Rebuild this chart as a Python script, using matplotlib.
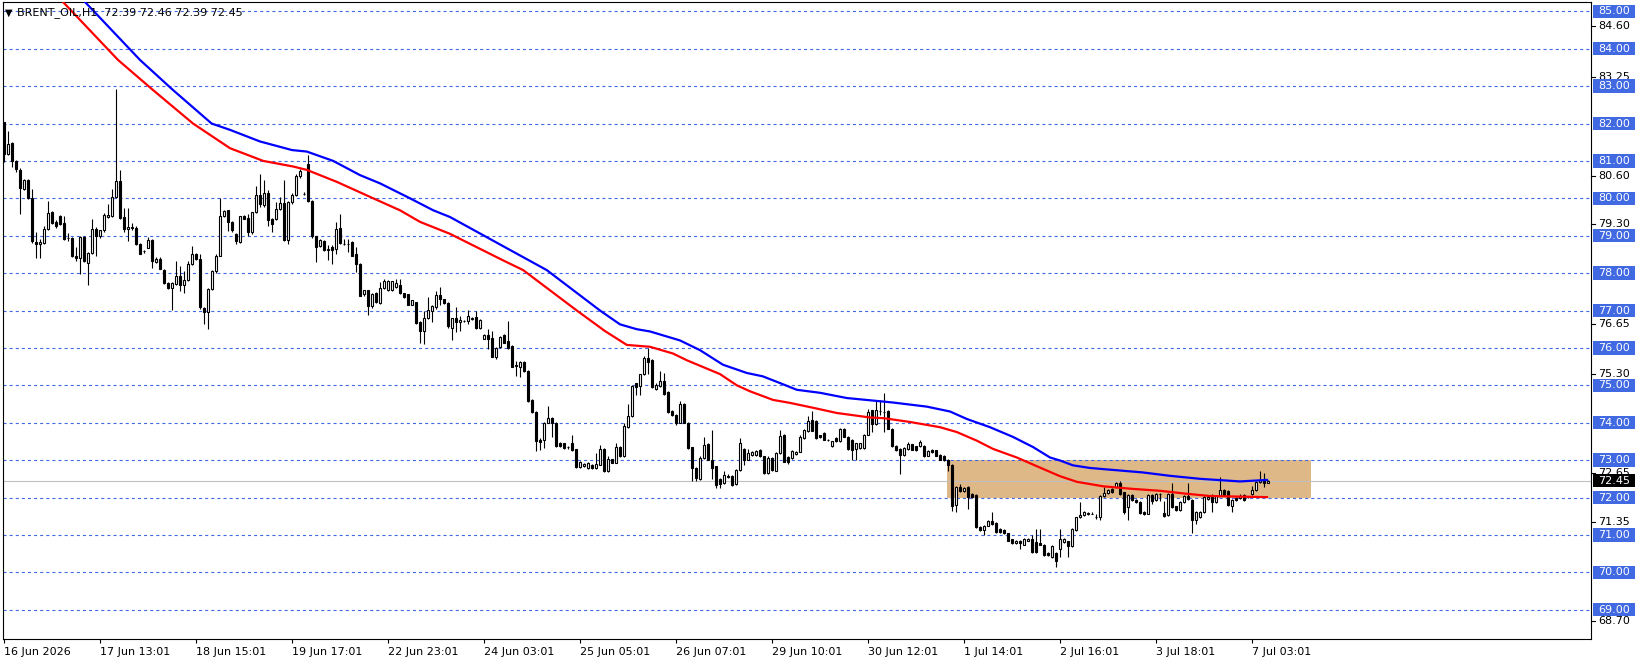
import matplotlib
matplotlib.use("Agg")
import matplotlib.pyplot as plt
import matplotlib.transforms as mtransforms
from matplotlib.patches import Rectangle

plt.rcParams['lines.scale_dashes'] = False
plt.rcParams['font.family'] = ['DejaVu Sans']

# ---------------- data (H1 bars, index 0 = first bar) ----------------
opens = [
 82.03, 81.19, 81.48, 81.00, 80.76, 80.25, 80.49, 80.02, 78.84, 78.77,
 78.81, 79.17, 79.63, 79.38, 79.52, 79.35, 78.94, 78.93, 78.46, 78.40,
 78.97, 78.27, 78.54, 79.17, 78.99, 79.14, 79.50, 79.52, 80.04, 80.45,
 79.51, 79.17, 79.21, 79.21, 78.78, 78.59, 78.68, 78.88, 78.30, 78.39,
 78.09, 77.73, 77.60, 77.71, 77.91, 77.67, 77.82, 78.25, 78.52, 78.39,
 77.08, 76.97, 77.58, 78.05, 78.47, 79.54, 79.68, 79.38, 79.05, 78.83,
 79.52, 79.48, 79.10, 79.63, 80.10, 79.81, 80.13, 79.46, 79.46, 79.72,
 79.88, 78.89, 79.90, 80.08, 80.59, 80.12, 80.91, 79.93, 78.98, 78.72,
 78.86, 78.63, 78.71, 78.65, 79.21, 78.78, 78.78, 78.83, 78.52, 78.25,
 77.43, 77.54, 77.11, 77.46, 77.20, 77.60, 77.55, 77.55, 77.63, 77.67,
 77.46, 77.43, 77.16, 77.22, 76.69, 76.44, 76.81, 76.99, 77.10, 77.42,
 77.30, 77.20, 76.54, 76.79, 76.68, 76.72, 76.71, 76.77, 76.83, 76.53,
 76.25, 76.34, 76.26, 75.76, 76.03, 76.34, 76.19, 76.05, 75.52, 75.50,
 75.63, 75.38, 74.61, 74.29, 73.55, 73.55, 74.00, 74.13, 74.00, 73.46,
 73.45, 73.35, 73.45, 73.29, 72.82, 72.84, 72.79, 72.87, 72.78, 72.88,
 73.30, 72.71, 73.02, 72.93, 73.36, 73.11, 73.88, 74.18, 75.05, 74.98,
 75.29, 75.72, 75.67, 74.91, 74.97, 75.12, 74.81, 74.32, 74.20, 74.00,
 74.51, 74.00, 73.34, 72.79, 72.50, 73.05, 73.43, 73.01, 72.83, 72.49,
 72.38, 72.58, 72.58, 72.36, 72.74, 73.30, 73.01, 73.14, 73.14, 73.28,
 73.10, 72.65, 73.05, 72.72, 73.19, 73.68, 73.09, 73.05, 73.16, 73.23,
 73.59, 73.77, 74.06, 74.05, 73.66, 73.72, 73.54, 73.37, 73.59, 73.50,
 73.84, 73.63, 73.54, 73.30, 73.32, 73.32, 73.68, 74.33, 73.97, 74.32,
 74.29, 74.31, 73.84, 73.39, 73.30, 73.14, 73.30, 73.42, 73.37, 73.37,
 73.39, 73.12, 73.28, 73.26, 73.15, 73.12, 73.01, 72.88, 71.81, 72.29,
 72.17, 72.28, 72.10, 72.08, 71.21, 71.12, 71.25, 71.37, 71.32, 71.16,
 71.14, 71.04, 70.88, 70.78, 70.85, 70.74, 70.85, 70.88, 70.80, 70.78,
 70.74, 70.51, 70.40, 70.51, 70.63, 70.80, 70.83, 70.71, 71.12, 71.47,
 71.52, 71.56, 71.57, 71.48, 71.48, 72.03, 72.12, 72.23, 72.27, 72.38,
 72.14, 71.74, 72.08, 71.94, 71.88, 71.61, 71.57, 72.08, 71.94, 72.10,
 71.58, 71.52, 72.10, 71.76, 71.67, 71.88, 72.05, 71.94, 71.39, 71.48,
 71.61, 71.96, 72.01, 71.88, 72.05, 72.20, 72.17, 71.76, 71.99, 71.99,
 72.08, 72.01, 72.10, 72.20, 72.41, 72.50, 72.39]

highs = [
 82.05, 81.80, 81.51, 81.02, 80.80, 80.52, 80.52, 80.25, 79.10, 78.90,
 79.26, 79.93, 79.66, 79.42, 79.55, 79.52, 79.08, 78.96, 78.70, 79.00,
 79.00, 78.56, 79.45, 79.23, 79.16, 79.60, 79.84, 80.25, 82.93, 80.77,
 79.75, 79.75, 79.35, 79.25, 78.80, 78.62, 78.97, 78.92, 78.42, 78.42,
 78.12, 77.76, 77.75, 78.33, 78.20, 78.05, 78.32, 78.72, 78.55, 78.50,
 77.10, 77.60, 78.08, 78.50, 80.00, 79.68, 79.70, 79.40, 79.08, 79.54,
 79.55, 79.59, 79.64, 80.32, 80.66, 80.48, 80.21, 79.48, 79.90, 80.04,
 80.50, 79.92, 80.13, 80.66, 80.79, 80.16, 81.15, 79.96, 79.00, 78.90,
 78.88, 78.74, 78.74, 79.37, 79.59, 78.92, 78.92, 78.86, 78.70, 78.28,
 77.56, 77.56, 77.47, 77.50, 77.76, 77.85, 77.82, 77.80, 77.85, 77.85,
 77.48, 77.45, 77.29, 77.24, 76.71, 76.99, 77.35, 77.15, 77.53, 77.63,
 77.32, 77.22, 76.80, 77.10, 76.86, 76.75, 77.01, 76.83, 76.99, 76.76,
 76.36, 76.50, 76.44, 76.03, 76.32, 76.36, 76.72, 76.07, 75.65, 75.65,
 75.66, 75.40, 74.63, 74.31, 73.58, 74.02, 74.46, 74.16, 74.02, 73.48,
 73.47, 73.38, 73.67, 73.31, 72.98, 72.92, 72.95, 72.89, 73.20, 73.40,
 73.32, 73.11, 73.04, 73.46, 73.38, 74.00, 74.50, 75.00, 75.07, 75.31,
 75.78, 75.99, 75.70, 75.05, 75.39, 75.33, 74.84, 74.35, 74.23, 74.57,
 74.53, 74.02, 73.36, 72.81, 73.10, 73.61, 73.45, 73.81, 72.85, 72.51,
 72.70, 72.62, 72.60, 72.76, 73.59, 73.32, 73.30, 73.25, 73.28, 73.30,
 73.12, 73.10, 73.07, 73.21, 73.81, 73.70, 73.11, 73.27, 73.25, 73.68,
 73.83, 74.17, 74.30, 74.07, 73.68, 73.74, 73.57, 73.52, 73.61, 73.86,
 73.86, 73.65, 73.56, 73.47, 73.47, 73.70, 74.36, 74.35, 74.62, 74.62,
 74.80, 74.33, 73.86, 73.41, 73.32, 73.35, 73.48, 73.44, 73.39, 73.55,
 73.41, 73.26, 73.30, 73.28, 73.17, 73.14, 73.03, 72.90, 72.31, 72.35,
 72.28, 72.30, 72.12, 72.10, 71.23, 71.27, 71.40, 71.60, 71.34, 71.18,
 71.16, 71.06, 70.90, 70.87, 70.87, 70.91, 70.91, 71.00, 71.16, 71.16,
 70.76, 70.53, 70.73, 70.53, 71.16, 70.91, 70.85, 71.18, 71.49, 71.87,
 71.63, 71.62, 71.60, 71.57, 72.07, 72.27, 72.22, 72.25, 72.41, 72.45,
 72.16, 72.10, 72.10, 71.96, 71.90, 71.63, 72.10, 72.10, 72.12, 72.12,
 71.92, 72.12, 72.39, 71.78, 71.90, 72.07, 72.39, 71.96, 71.63, 71.63,
 72.03, 72.03, 72.10, 72.05, 72.56, 72.22, 72.19, 71.96, 72.01, 72.10,
 72.10, 72.04, 72.31, 72.43, 72.72, 72.65, 72.46]

lows = [
 80.97, 81.15, 80.83, 80.70, 79.57, 80.21, 79.98, 78.80, 78.40, 78.40,
 78.78, 79.15, 79.30, 79.20, 79.28, 78.88, 78.85, 78.42, 78.32, 77.97,
 78.30, 77.69, 78.50, 78.47, 78.95, 79.10, 79.48, 79.50, 80.00, 79.45,
 79.10, 78.86, 79.15, 78.75, 78.50, 78.55, 78.66, 78.14, 78.28, 78.10,
 77.70, 77.58, 77.01, 77.68, 77.51, 77.47, 77.80, 78.22, 78.35, 77.05,
 76.65, 76.50, 77.55, 78.00, 78.45, 79.50, 79.12, 79.10, 78.79, 78.80,
 79.44, 79.00, 79.05, 79.60, 79.77, 79.78, 79.27, 79.10, 79.42, 79.70,
 78.85, 78.79, 79.86, 80.05, 80.55, 80.10, 79.90, 78.95, 78.31, 78.70,
 78.60, 78.34, 78.25, 78.52, 78.78, 78.74, 78.56, 78.45, 78.03, 77.38,
 77.40, 76.89, 77.08, 77.20, 77.18, 77.58, 77.52, 77.52, 77.60, 77.44,
 77.34, 77.14, 77.14, 76.64, 76.13, 76.10, 76.78, 76.70, 77.05, 77.16,
 77.17, 76.54, 76.21, 76.43, 76.45, 76.69, 76.65, 76.75, 76.51, 76.51,
 76.23, 75.96, 75.75, 75.70, 76.00, 76.12, 75.97, 75.48, 75.25, 75.21,
 75.35, 74.56, 74.27, 73.24, 73.27, 73.33, 73.98, 73.63, 73.36, 73.36,
 73.31, 73.29, 73.25, 72.80, 72.80, 72.82, 72.77, 72.76, 72.76, 72.86,
 72.69, 72.69, 72.91, 72.91, 73.09, 73.09, 73.86, 74.16, 74.73, 74.73,
 75.27, 75.31, 74.92, 74.88, 74.95, 74.75, 74.27, 74.18, 73.95, 73.98,
 73.98, 73.30, 72.43, 72.45, 72.48, 73.03, 72.99, 72.50, 72.25, 72.25,
 72.36, 72.52, 72.30, 72.33, 72.72, 72.86, 72.99, 73.12, 73.12, 73.08,
 72.62, 72.63, 72.72, 72.70, 73.17, 72.94, 72.90, 73.03, 73.14, 73.21,
 73.57, 73.75, 73.77, 73.57, 73.60, 73.53, 73.51, 73.35, 73.48, 73.48,
 73.61, 73.28, 73.00, 73.00, 73.30, 73.30, 73.66, 73.75, 73.95, 74.20,
 73.75, 73.82, 73.35, 73.24, 72.63, 73.12, 73.28, 73.26, 73.24, 73.35,
 73.08, 73.10, 73.20, 73.10, 72.99, 72.97, 72.72, 71.65, 71.60, 72.15,
 72.15, 71.70, 71.99, 71.19, 71.11, 71.00, 71.23, 71.26, 71.05, 71.05,
 71.02, 70.83, 70.76, 70.76, 70.62, 70.72, 70.83, 70.52, 70.52, 70.72,
 70.43, 70.43, 70.38, 70.15, 70.40, 70.78, 70.40, 70.69, 71.10, 71.45,
 71.50, 71.54, 71.55, 71.43, 71.40, 72.01, 72.10, 72.12, 72.25, 72.08,
 71.55, 71.41, 71.92, 71.86, 71.56, 71.53, 71.55, 71.83, 71.92, 71.92,
 71.48, 71.50, 71.72, 71.65, 71.65, 71.86, 71.94, 71.05, 71.30, 71.46,
 71.59, 71.94, 71.60, 71.86, 72.03, 72.06, 71.77, 71.60, 71.92, 71.97,
 71.92, 71.99, 72.08, 72.18, 72.39, 72.29, 72.39]

closes = [
 81.19, 81.44, 81.01, 80.79, 80.27, 80.49, 80.02, 78.85, 78.77, 78.83,
 79.17, 79.60, 79.35, 79.25, 79.32, 78.90, 78.95, 78.45, 78.40, 78.97,
 78.32, 78.54, 79.17, 78.99, 79.14, 79.55, 79.55, 80.04, 80.45, 79.48,
 79.17, 79.23, 79.22, 78.78, 78.52, 78.60, 78.88, 78.32, 78.39, 78.12,
 77.73, 77.60, 77.73, 77.91, 77.67, 77.82, 78.25, 78.52, 78.39, 77.10,
 76.97, 77.58, 78.06, 78.47, 79.53, 79.65, 79.37, 79.14, 78.86, 79.52,
 79.46, 79.10, 79.63, 80.10, 79.84, 80.13, 79.41, 79.30, 79.72, 79.88,
 78.89, 79.90, 80.08, 80.59, 80.73, 80.12, 79.93, 78.98, 78.70, 78.88,
 78.63, 78.64, 78.63, 79.17, 78.80, 78.79, 78.79, 78.47, 78.25, 77.40,
 77.54, 77.11, 77.45, 77.22, 77.61, 77.80, 77.80, 77.78, 77.73, 77.46,
 77.36, 77.16, 77.27, 76.66, 76.45, 76.81, 77.01, 77.13, 77.42, 77.30,
 77.19, 76.59, 76.79, 76.68, 76.74, 76.72, 76.86, 76.81, 76.53, 76.74,
 76.34, 76.25, 75.77, 76.01, 76.30, 76.14, 75.99, 75.50, 75.53, 75.63,
 75.37, 74.58, 74.29, 73.51, 73.49, 74.00, 74.13, 74.00, 73.38, 73.38,
 73.33, 73.35, 73.27, 72.82, 72.96, 72.90, 72.93, 72.78, 72.90, 73.30,
 72.71, 73.02, 72.93, 73.36, 73.11, 73.91, 74.18, 74.98, 74.96, 75.29,
 75.72, 75.63, 74.95, 75.02, 75.12, 74.77, 74.29, 74.20, 74.00, 74.51,
 74.00, 73.32, 72.79, 72.52, 73.05, 73.41, 73.01, 72.80, 72.34, 72.36,
 72.61, 72.55, 72.34, 72.74, 73.46, 73.00, 73.19, 73.23, 73.25, 73.10,
 72.65, 73.05, 72.74, 73.19, 73.65, 72.96, 72.96, 73.25, 73.23, 73.62,
 73.81, 74.04, 73.79, 73.59, 73.62, 73.55, 73.54, 73.50, 73.50, 73.84,
 73.63, 73.30, 73.28, 73.45, 73.45, 73.68, 74.29, 73.97, 74.35, 74.31,
 74.28, 73.84, 73.39, 73.26, 73.14, 73.33, 73.42, 73.28, 73.26, 73.48,
 73.10, 73.24, 73.22, 73.12, 73.01, 72.99, 72.86, 71.77, 72.29, 72.17,
 72.26, 72.01, 72.01, 71.21, 71.13, 71.25, 71.38, 71.28, 71.07, 71.07,
 71.04, 70.85, 70.78, 70.85, 70.78, 70.89, 70.89, 70.54, 70.54, 70.74,
 70.45, 70.45, 70.71, 70.31, 70.89, 70.89, 70.71, 71.16, 71.47, 71.54,
 71.61, 71.58, 71.57, 71.48, 72.05, 72.12, 72.20, 72.14, 72.38, 72.10,
 71.61, 72.08, 71.94, 71.88, 71.58, 71.55, 72.08, 71.92, 72.10, 72.10,
 71.50, 72.10, 71.74, 71.67, 71.88, 72.05, 71.96, 71.39, 71.61, 71.61,
 72.01, 72.01, 71.88, 72.03, 72.20, 72.08, 71.79, 71.94, 71.94, 72.05,
 71.94, 72.01, 72.20, 72.41, 72.47, 72.38, 72.45]

# moving averages (bar position, price)
ma_red_x = [10, 14.75, 28.5, 37.2, 47.25, 56.5, 64.8, 72.3, 75.7, 83.2, 92.3, 99,
            104, 111.5, 124.6, 129.8, 143.2, 150.25, 155.7, 161.5, 167.25, 170.7,
            179, 183.2, 186.5, 192.25, 196.5, 202.25, 208.2, 216.5, 220, 226.5,
            234, 238.2, 243.2, 247.25, 253.2, 259, 264, 268.2, 271.5, 274.75,
            282.25, 289, 295.7, 301.5, 315.75]
ma_red_y = [85.8, 85.25, 83.70, 82.9, 82.0, 81.34, 81.0, 80.85, 80.76, 80.44, 80.0, 79.68,
            79.37, 79.05, 78.35, 78.08, 77.0, 76.45, 76.08, 76.03, 75.85, 75.67,
            75.3, 75.0, 74.84, 74.61, 74.53, 74.4, 74.26, 74.14, 74.12, 74.02,
            73.88, 73.75, 73.52, 73.3, 73.07, 72.8, 72.57, 72.42, 72.36, 72.3,
            72.23, 72.18, 72.1, 72.04, 72.01]
ma_blue_x = [16, 20.25, 34, 42.2, 51.9, 56.5, 64, 72, 75.7, 82.3, 89, 94, 101.5,
             107.3, 111.5, 127, 135.7, 149, 154, 158.2, 161.5, 169, 174, 179.75,
             185.7, 189.7, 194, 198.2, 204, 210.7, 216.5, 222.25, 230.7, 236.5,
             240.7, 246.5, 252.25, 257.25, 261.5, 264, 267.25, 271.5, 274.75,
             284.75, 291.5, 299, 309, 315.75]
ma_blue_y = [85.75, 85.25, 83.70, 82.9, 82.0, 81.83, 81.52, 81.29, 81.25, 81.0, 80.62, 80.4, 80.0,
             79.68, 79.5, 78.59, 78.08, 77.0, 76.63, 76.5, 76.44, 76.2, 75.94, 75.55,
             75.33, 75.24, 75.06, 74.88, 74.8, 74.66, 74.6, 74.54, 74.43, 74.3,
             74.1, 73.88, 73.62, 73.35, 73.07, 72.99, 72.86, 72.79, 72.76,
             72.67, 72.58, 72.5, 72.43, 72.47]

grid_levels = list(range(69, 86))
minor_levels = [84.60, 83.25, 80.60, 79.30, 76.65, 75.30, 72.65, 71.35, 68.70]
last_price = 72.45
zone_low, zone_high = 72.0, 73.0
zone_x0, zone_x1 = 235.8, 326.7
tick_bars = [0, 24, 48, 72, 96, 120, 144, 168, 192, 216, 240, 264, 288, 312]
tick_labels = ["16 Jun 2026", "17 Jun 13:01", "18 Jun 15:01", "19 Jun 17:01",
               "22 Jun 23:01", "24 Jun 03:01", "25 Jun 05:01", "26 Jun 07:01",
               "29 Jun 10:01", "30 Jun 12:01", "1 Jul 14:01", "2 Jul 16:01",
               "3 Jul 18:01", "7 Jul 03:01"]
title = "BRENT_OIL,H1  72.39 72.46 72.39 72.45"

# ---------------- figure ----------------
W, H = 1641, 663
fig = plt.figure(figsize=(W / 100, H / 100), dpi=100)
L, R, T, B = 2.7, 1591, 2, 639
ax = fig.add_axes([L / W, 1 - B / H, (R - L) / W, (B - T) / H])
ax.set_xlim(-0.325, 396.75)
ax.set_ylim(68.217, 85.249)
for s in ax.spines.values():
    s.set_linewidth(0.8)
    s.set_color('black')

GRID = '#4169E1'
for lv in grid_levels:
    ax.axhline(lv, color=GRID, lw=0.8, dashes=(2.2, 2.2), zorder=2)
ax.axhline(last_price, color='#C0C0C0', lw=0.8, zorder=2)

ax.add_patch(Rectangle((zone_x0, zone_low), zone_x1 - zone_x0, zone_high - zone_low,
                       facecolor='#DEB887', edgecolor='none', zorder=1))

# candles
xs = list(range(len(closes)))
ax.vlines(xs, lows, highs, color='black', lw=0.8, zorder=3)
bot = [min(o, c) for o, c in zip(opens, closes)]
hgt = [abs(c - o) for o, c in zip(opens, closes)]
fcs = ['white' if c >= o else 'black' for o, c in zip(opens, closes)]
ax.bar(xs, hgt, bottom=bot, width=0.6, color=fcs, edgecolor='black',
       linewidth=0.8, zorder=4)

ax.plot(ma_blue_x, ma_blue_y, color='#0000FF', lw=1.6, zorder=5, solid_joinstyle='round')
ax.plot(ma_red_x, ma_red_y, color='#FF0000', lw=1.6, zorder=5, solid_joinstyle='round')

# x axis
ax.set_xticks(tick_bars)
ax.set_xticklabels(tick_labels, ha='left', fontsize=8)
ax.tick_params(axis='x', length=3, width=0.8, pad=2.5, direction='out')
ax.set_yticks([])

# right price scale
blend = mtransforms.blended_transform_factory(fig.transFigure, ax.transData)
for lv in minor_levels:
    ax.plot([R / W, (R + 4) / W], [lv, lv], transform=blend, color='black', lw=0.8,
            clip_on=False, zorder=6)
    ax.text(1598 / W, lv, f"{lv:.2f}", transform=blend, ha='left', va='center',
            fontsize=8, color='black', clip_on=False, zorder=6)
bh = 13.5 / 37.375
for lv in grid_levels:
    ax.add_patch(Rectangle((1593 / W, lv - bh / 2), 42 / W, bh, transform=blend,
                           facecolor=GRID, edgecolor='none', clip_on=False, zorder=7))
    ax.text(1598 / W, lv, f"{lv:.2f}", transform=blend, ha='left', va='center',
            fontsize=8, color='white', clip_on=False, zorder=8)
ax.add_patch(Rectangle((1593 / W, last_price - bh / 2), 42 / W, bh, transform=blend,
                       facecolor='black', edgecolor='none', clip_on=False, zorder=7))
ax.text(1598 / W, last_price, f"{last_price:.2f}", transform=blend, ha='left',
        va='center', fontsize=8, color='white', clip_on=False, zorder=8)

# title
fig.text(5 / W, 1 - 12.5 / H, "\u25BC", fontsize=7, va='center', ha='left')
fig.text(17 / W, 1 - 12.5 / H, title, fontsize=8, va='center', ha='left')

fig.savefig("out.png", dpi=100, facecolor='white')
